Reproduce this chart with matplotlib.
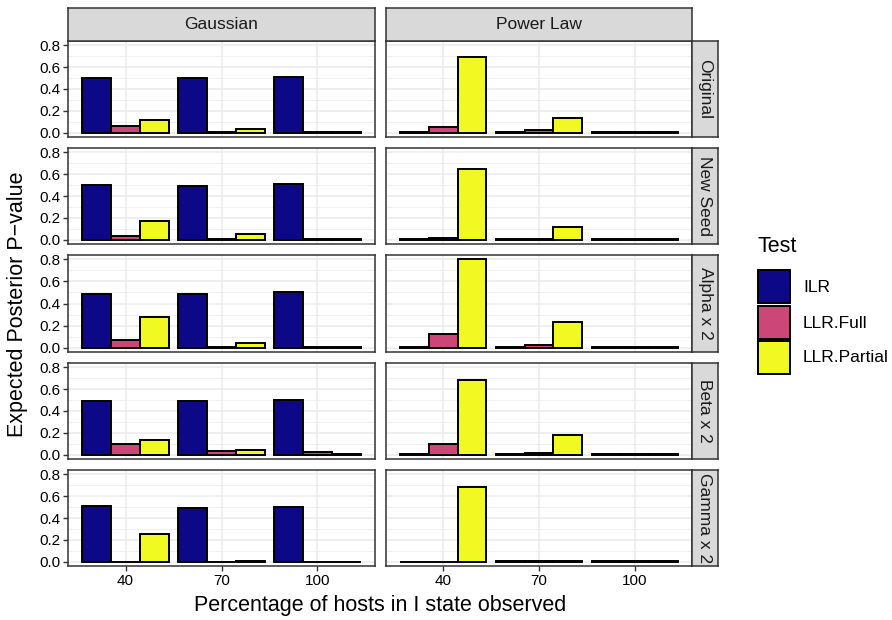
import numpy as np
import matplotlib
matplotlib.use("Agg")
import matplotlib.pyplot as plt
from matplotlib.patches import Rectangle

# x groups and facets
pct = ["40", "70", "100"]
models = ["Gaussian", "Power Law"]
scenarios = ["Original", "New Seed", "Alpha x 2", "Beta x 2", "Gamma x 2"]
tests = ["ILR", "LLR.Full", "LLR.Partial"]
colors = {"ILR": "#0D0887", "LLR.Full": "#CC4678", "LLR.Partial": "#F0F921"}

# expected posterior p-values, [scenario][test] -> values at 40/70/100
gauss_ilr = [[0.50, 0.50, 0.51], [0.50, 0.49, 0.51], [0.49, 0.49, 0.50],
             [0.49, 0.49, 0.50], [0.51, 0.49, 0.50]]
gauss_full = [[0.065, 0.004, 0.008], [0.03, 0.01, 0.004], [0.07, 0.004, 0.004],
              [0.10, 0.03, 0.02], [0.0, 0.0, 0.0]]
gauss_part = [[0.12, 0.03, 0.01], [0.175, 0.05, 0.004], [0.28, 0.045, 0.005],
              [0.13, 0.04, 0.01], [0.25, 0.01, 0.0]]
power_ilr = [[0.002, 0.002, 0.002], [0.004, 0.004, 0.002], [0.004, 0.004, 0.004],
             [0.003, 0.003, 0.003], [0.0, 0.01, 0.01]]
power_full = [[0.05, 0.025, 0.01], [0.015, 0.004, 0.002], [0.12, 0.02, 0.008],
              [0.10, 0.015, 0.003], [0.0, 0.003, 0.003]]
power_part = [[0.69, 0.135, 0.004], [0.65, 0.12, 0.002], [0.80, 0.23, 0.003],
              [0.68, 0.18, 0.003], [0.68, 0.003, 0.002]]

data = {
    "Gaussian": {"ILR": gauss_ilr, "LLR.Full": gauss_full, "LLR.Partial": gauss_part},
    "Power Law": {"ILR": power_ilr, "LLR.Full": power_full, "LLR.Partial": power_part},
}

W, H = 892, 620
fig = plt.figure(figsize=(W / 100, H / 100), dpi=100)
plt.rcParams['font.family'] = ['Liberation Sans', 'DejaVu Sans']

def fx(px):
    return px / W

def fy(py):
    return 1 - py / H

col_x = [(68, 375), (386, 692)]
row_y = [(41, 137), (148, 244), (255, 352), (363, 459), (470, 566)]
border = "#333333"
strip_bg = "#D9D9D9"

ymax = max(max(max(r) for r in data[m][t]) for m in models for t in tests)
pad = ymax * 0.05
xpos = np.arange(len(pct))
bw = 0.3

for ci, m in enumerate(models):
    x0, x1 = col_x[ci]
    for ri, s in enumerate(scenarios):
        y0, y1 = row_y[ri]
        ax = fig.add_axes([fx(x0), fy(y1), fx(x1 - x0), (y1 - y0) / H])
        ax.set_xlim(-0.6, 2.6)
        ax.set_ylim(-pad, ymax + pad)
        ax.set_yticks([0, 0.2, 0.4, 0.6, 0.8])
        ax.set_yticks([0.1, 0.3, 0.5, 0.7], minor=True)
        ax.set_xticks(xpos)
        ax.grid(True, which="major", color="#EBEBEB", lw=1.1, zorder=0)
        ax.grid(True, which="minor", axis="y", color="#EBEBEB", lw=0.55, zorder=0)
        ax.set_axisbelow(True)
        for j, t in enumerate(tests):
            ax.bar(xpos + (j - 1) * bw, data[m][t][ri], width=bw,
                   color=colors[t], edgecolor="black", linewidth=1.4, zorder=3)
        for sp in ax.spines.values():
            sp.set_color(border)
            sp.set_linewidth(1.1)
        ax.tick_params(which="minor", length=0)
        ax.tick_params(which="major", length=3.5, width=1, color=border,
                       labelsize=11, labelcolor="#000000", pad=2)
        if ci == 0:
            ax.set_yticklabels(["0.0", "0.2", "0.4", "0.6", "0.8"])
        else:
            ax.set_yticklabels([])
            ax.tick_params(axis="y", length=0)
        if ri == len(scenarios) - 1:
            ax.set_xticklabels(pct)
        else:
            ax.set_xticklabels([])
            ax.tick_params(axis="x", length=0)

        # right strip
        if ci == 1:
            sax = fig.add_axes([fx(692), fy(y1), fx(718 - 692), (y1 - y0) / H])
            sax.set_facecolor(strip_bg)
            sax.set_xticks([])
            sax.set_yticks([])
            for sp in sax.spines.values():
                sp.set_color(border)
                sp.set_linewidth(1.1)
            sax.text(0.5, 0.5, s, rotation=-90, ha="center", va="center",
                     fontsize=12.5, color="#1A1A1A", transform=sax.transAxes)

    # top strip
    tax = fig.add_axes([fx(x0), fy(41), fx(x1 - x0), (41 - 8) / H])
    tax.set_facecolor(strip_bg)
    tax.set_xticks([])
    tax.set_yticks([])
    for sp in tax.spines.values():
        sp.set_color(border)
        sp.set_linewidth(1.1)
    tax.text(0.5, 0.5, m, ha="center", va="center", fontsize=12.5,
             color="#1A1A1A", transform=tax.transAxes)

fig.text(fx(18), fy(304), "Expected Posterior P\u2212value", rotation=90,
         ha="center", va="center", fontsize=15.5)
fig.text(fx(380), fy(606), "Percentage of hosts in I state observed",
         ha="center", va="center", fontsize=15.5)

# legend
fig.text(fx(757), fy(246), "Test", ha="left", va="center", fontsize=15.5)
key_top = [270, 306, 341]
for k, t in enumerate(tests):
    ky = key_top[k]
    fig.patches.append(Rectangle((fx(758), fy(ky + 33)), fx(32), 33 / H,
                                 facecolor=colors[t], edgecolor="black", lw=1.4,
                                 transform=fig.transFigure, figure=fig))
    fig.text(fx(803), fy(ky + 17), t, ha="left", va="center", fontsize=12.5)

fig.savefig("out.png", dpi=100)
